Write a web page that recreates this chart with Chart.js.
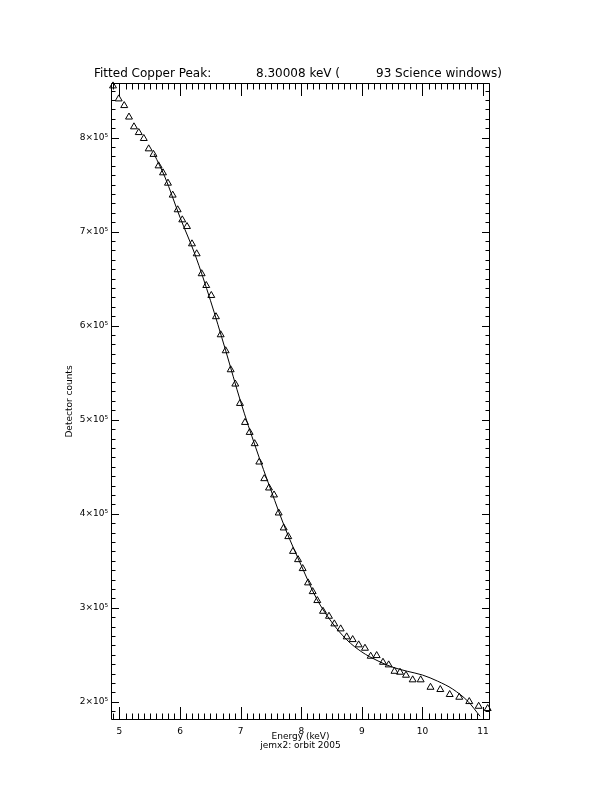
<!DOCTYPE html>
<html>
<head>
<meta charset="utf-8">
<title>Fitted Copper Peak</title>
<script src="https://cdn.jsdelivr.net/npm/chart.js@4.4.1/dist/chart.umd.min.js"></script>
<style>
  html, body { margin: 0; padding: 0; background: #fff; }
  canvas { display: block; }
</style>
</head>
<body>
<canvas id="chart" width="612" height="792"></canvas>
<script>
// measured spectrum (keV, detector counts)
const energy = [
  4.893, 4.987, 5.078, 5.157, 5.239, 5.318, 5.401, 5.482, 5.561, 5.645,
  5.718, 5.800, 5.878, 5.960, 6.036, 6.114, 6.196, 6.274, 6.356, 6.432,
  6.515, 6.592, 6.670, 6.752, 6.835, 6.911, 6.988, 7.071, 7.148, 7.231,
  7.307, 7.389, 7.467, 7.550, 7.627, 7.710, 7.785, 7.863, 7.946, 8.023,
  8.111, 8.188, 8.264, 8.358, 8.457, 8.545, 8.650, 8.749, 8.848, 8.947,
  9.051, 9.145, 9.244, 9.348, 9.442, 9.538, 9.629, 9.728, 9.838, 9.970,
  10.132, 10.294, 10.449, 10.607, 10.772, 10.927, 11.076
];
const counts = [
  854900, 841100, 834000, 821800, 811400, 805300, 799000, 788000, 782100, 769900,
  762500, 751500, 738800, 723200, 712500, 705400, 687000, 676400, 655200, 642700,
  632100, 609500, 590300, 573300, 553100, 537900, 517300, 497100, 486500, 474500,
  455000, 437300, 427400, 420000, 400800, 384900, 375700, 360000, 351200, 341700,
  326500, 317200, 307700, 296300, 291000, 282900, 277600, 269100, 266200, 260600,
  257000, 248500, 249200, 242100, 239300, 232500, 231500, 228300, 223400, 223400,
  215500, 213100, 207800, 204900, 200300, 195300, 192900
];

// fitted model curve
const fitEnergy = [
  5.57, 5.75, 6.0, 6.25, 6.5, 6.75, 7.0, 7.25, 7.5, 7.75, 8.0, 8.25,
  8.5, 8.75, 9.0, 9.25, 9.5, 9.75, 10.0, 10.25, 10.5, 10.75, 10.95
];
const fitCounts = [
  782700, 758000, 715000, 675000, 627000, 574000, 519000, 470000, 425000, 382000, 345000, 310000,
  285000, 266000, 253000, 244000, 237000, 232500, 228500, 222000, 213500, 200500, 184700
];

const xTicks = [5, 6, 7, 8, 9, 10, 11];
const yTicks = [200000, 300000, 400000, 500000, 600000, 700000, 800000];

const titleParts = ["Fitted Copper Peak:", "8.30008 keV (", "93 Science windows)"];
const xTitle = ["Energy (keV)", "jemx2: orbit 2005"];
const yTitle = "Detector counts";

const FAMILY = "'DejaVu Sans', sans-serif";

// IDL style box: inward ticks on all four sides + title text
const frame = {
  id: "frame",
  afterDraw(chart) {
    const { ctx, chartArea: a, scales } = chart;
    const x = scales.x;
    const y = scales.y;
    const L = a.left + 0.5, R = a.right - 0.5, T = a.top + 0.5, B = a.bottom - 0.5;

    ctx.save();
    ctx.strokeStyle = "#000";
    ctx.lineWidth = 1;
    ctx.beginPath();
    ctx.rect(L, T, R - L, B - T);

    for (let i = 49; i <= 111; i++) {
      const v = i / 10;
      if (v < x.min || v > x.max) continue;
      const len = i % 10 === 0 ? 12.5 : 6;
      const px = Math.round(x.getPixelForValue(v)) + 0.5;
      ctx.moveTo(px, B);
      ctx.lineTo(px, B - len);
      ctx.moveTo(px, T);
      ctx.lineTo(px, T + len);
    }

    for (let i = 18; i <= 86; i++) {
      const v = i * 10000;
      if (v < y.min || v > y.max) continue;
      const len = i % 10 === 0 ? 7.5 : 4;
      const py = Math.round(y.getPixelForValue(v)) + 0.5;
      ctx.moveTo(L, py);
      ctx.lineTo(L + len, py);
      ctx.moveTo(R, py);
      ctx.lineTo(R - len, py);
    }
    ctx.stroke();

    ctx.fillStyle = "#000";
    ctx.font = "12px " + FAMILY;
    ctx.textBaseline = "alphabetic";
    ctx.textAlign = "left";
    const titleX = [94, 256, 376];
    titleParts.forEach((t, i) => ctx.fillText(t, titleX[i], 76.5));
    ctx.restore();
  }
};

new Chart(document.getElementById("chart"), {
  type: "scatter",
  data: {
    datasets: [
      {
        label: "data",
        data: energy.map((e, i) => ({ x: e, y: counts[i] })),
        pointStyle: "triangle",
        pointRadius: 4,
        pointBorderWidth: 1,
        pointBorderColor: "#000",
        pointBackgroundColor: "rgba(0,0,0,0)",
        showLine: false,
        clip: false,
      },
      {
        label: "fit",
        data: fitEnergy.map((e, i) => ({ x: e, y: fitCounts[i] })),
        showLine: true,
        pointRadius: 0,
        borderColor: "#000",
        borderWidth: 1,
        cubicInterpolationMode: "monotone",
      },
    ],
  },
  options: {
    responsive: false,
    animation: false,
    devicePixelRatio: 1,
    layout: { padding: { left: 60, right: 122, top: 83, bottom: 0 } },
    plugins: {
      legend: { display: false },
      tooltip: { enabled: false },
    },
    scales: {
      x: {
        type: "linear",
        min: 4.86,
        max: 11.114,
        grid: { display: false, drawTicks: false },
        border: { display: false },
        afterBuildTicks: (s) => { s.ticks = xTicks.map((v) => ({ value: v })); },
        afterFit: (s) => { s.height = 72; },
        ticks: {
          padding: 6,
          color: "#000",
          maxRotation: 0,
          autoSkip: false,
          font: { family: FAMILY, size: 9 },
        },
        title: {
          display: true,
          text: xTitle,
          color: "#000",
          font: { family: FAMILY, size: 9, lineHeight: 1 },
          padding: { top: 0, bottom: 42 },
        },
      },
      y: {
        type: "linear",
        min: 180700,
        max: 858000,
        grid: { display: false, drawTicks: false },
        border: { display: false },
        afterBuildTicks: (s) => { s.ticks = yTicks.map((v) => ({ value: v })); },
        afterFit: (s) => { s.width = 51; },
        ticks: {
          padding: 3,
          color: "#000",
          autoSkip: false,
          font: { family: FAMILY, size: 9 },
          callback: (v) => `${v / 100000}×10⁵`,
        },
        title: {
          display: true,
          text: yTitle,
          color: "#000",
          font: { family: FAMILY, size: 9 },
          padding: { top: 4, bottom: 0 },
        },
      },
    },
  },
  plugins: [frame],
});
</script>
</body>
</html>
